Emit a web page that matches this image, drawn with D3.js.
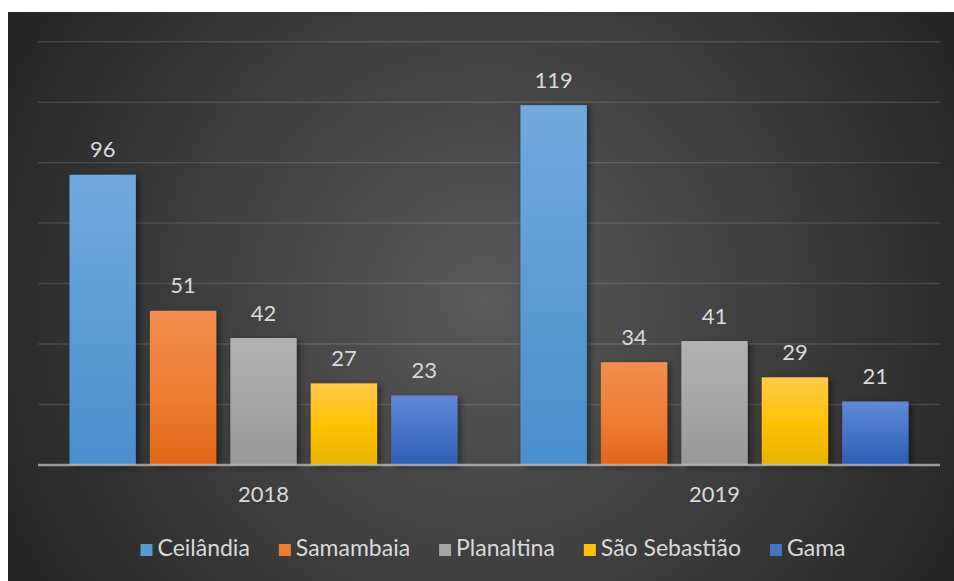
<!DOCTYPE html>
<html><head><meta charset="utf-8">
<script src="https://cdn.jsdelivr.net/npm/d3@7"></script>
<style>html,body{margin:0;padding:0;background:#fff;}svg{display:block;}</style>
</head><body>
<script>
const years = ["2018", "2019"];
const cities = ["Ceilândia", "Samambaia", "Planaltina", "São Sebastião", "Gama"];
const values2018 = [96, 51, 42, 27, 23];
const values2019 = [119, 34, 41, 29, 21];
const yTicks = [0, 20, 40, 60, 80, 100, 120, 140];
const colors = ["#5B9BD5", "#ED7D31", "#A5A5A5", "#FFC000", "#4472C4"];
const gradTop = ["#72a9de", "#f48d50", "#b2b2b2", "#ffca48", "#6189d6"];
const gradBot = ["#4a8ecf", "#e2671a", "#989898", "#e6b300", "#2f5db6"];

const W = 954, H = 581;
const svg = d3.select("body").append("svg").attr("width", W).attr("height", H);
const defs = svg.append("defs");

const rg = defs.append("radialGradient").attr("id", "bg")
  .attr("gradientUnits", "userSpaceOnUse").attr("cx", 485).attr("cy", 300).attr("r", 580);
rg.append("stop").attr("offset", 0).attr("stop-color", "#5a5a5a");
rg.append("stop").attr("offset", 1).attr("stop-color", "#212121");

cities.forEach((c, i) => {
  const g = defs.append("linearGradient").attr("id", "g" + i)
    .attr("x1", 0).attr("y1", 0).attr("x2", 0).attr("y2", 1);
  g.append("stop").attr("offset", 0).attr("stop-color", gradTop[i]);
  g.append("stop").attr("offset", 0.55).attr("stop-color", colors[i]);
  g.append("stop").attr("offset", 1).attr("stop-color", gradBot[i]);
});

const f = defs.append("filter").attr("id", "sh").attr("x", "-20%").attr("y", "-20%").attr("width", "150%").attr("height", "150%");
f.append("feDropShadow").attr("dx", 3).attr("dy", 2).attr("stdDeviation", 3)
  .attr("flood-color", "#000").attr("flood-opacity", 0.45);

svg.append("rect").attr("x", 8).attr("y", 12).attr("width", W - 8).attr("height", H - 12).attr("fill", "url(#bg)");

const x0 = d3.scaleBand().domain(years).range([38, 940]).padding(0);
const x1 = d3.scaleBand().domain(cities).range([31.5, 419.5]).paddingInner(0.175).paddingOuter(0);
const y = d3.scaleLinear().domain([0, 140]).range([465, 41.7]);

// gridlines
svg.append("g").selectAll("line").data(yTicks.filter(t => t > 0)).join("line")
  .attr("x1", 38).attr("x2", 940)
  .attr("y1", d => y(d)).attr("y2", d => y(d))
  .attr("stroke", "#ffffff").attr("stroke-opacity", 0.13).attr("stroke-width", 1.5);

const data = [values2018, values2019];
const font = "Lato, 'Open Sans', sans-serif";

years.forEach((yr, yi) => {
  const g = svg.append("g").attr("transform", `translate(${x0(yr)},0)`);
  g.selectAll("rect").data(data[yi]).join("rect")
    .attr("x", (d, i) => x1(cities[i]))
    .attr("y", d => y(d))
    .attr("width", x1.bandwidth())
    .attr("height", d => y(0) - y(d))
    .attr("fill", (d, i) => `url(#g${i})`)
    .attr("filter", "url(#sh)");
  g.selectAll("text").data(data[yi]).join("text")
    .attr("x", (d, i) => x1(cities[i]) + x1.bandwidth() / 2)
    .attr("y", d => y(d) - 17.5)
    .attr("text-anchor", "middle")
    .attr("font-family", font).attr("font-size", 22)
    .attr("fill", "#d9d9d9")
    .text(d => d);
});

// baseline
svg.append("line").attr("x1", 38).attr("x2", 940).attr("y1", y(0)).attr("y2", y(0))
  .attr("stroke", "#bfbfbf").attr("stroke-opacity", 0.75).attr("stroke-width", 2.5);

// category labels
svg.append("g").selectAll("text").data(years).join("text")
  .attr("x", d => x0(d) + x0.bandwidth() / 2)
  .attr("y", 502)
  .attr("text-anchor", "middle")
  .attr("font-family", font).attr("font-size", 22)
  .attr("fill", "#d9d9d9")
  .text(d => d);

// legend
const lg = svg.append("g");
const items = lg.selectAll("g").data(cities).join("g");
items.append("rect").attr("width", 12).attr("height", 12).attr("y", -12)
  .attr("fill", (d, i) => colors[i]);
items.append("text").attr("x", 17).attr("y", 0)
  .attr("font-family", font).attr("font-size", 23).attr("fill", "#d9d9d9")
  .text(d => d);
let widths = [];
items.each(function () { widths.push(17 + this.querySelector("text").getComputedTextLength()); });
const gap = 29;
const total = d3.sum(widths) + gap * (widths.length - 1);
let cx = 493 - total / 2;
items.attr("transform", (d, i) => {
  const t = `translate(${cx},556)`;
  cx += widths[i] + gap;
  return t;
});
</script>
</body></html>
